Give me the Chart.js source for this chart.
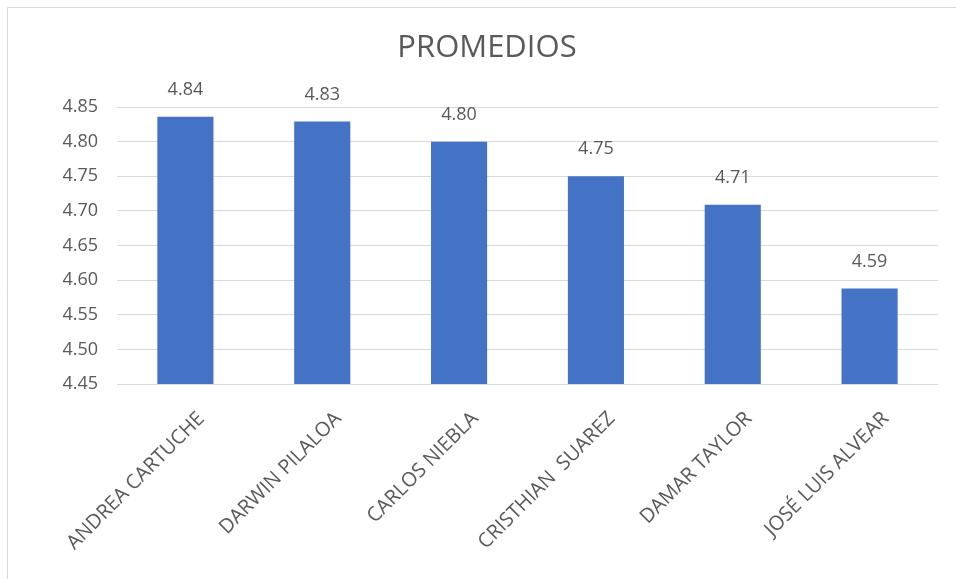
<!DOCTYPE html>
<html>
<head>
<meta charset="utf-8">
<script src="https://cdn.jsdelivr.net/npm/chart.js@4/dist/chart.umd.min.js"></script>
<style>
  html, body { margin: 0; padding: 0; background: #fff; overflow: hidden; }
  #wrap { width: 974px; height: 579px; }
</style>
</head>
<body>
<div id="wrap"><canvas id="PromChart"></canvas></div>
<script>
// data
const nombres = ['ANDREA CARTUCHE', 'DARWIN PILALOA', 'CARLOS NIEBLA', 'CRISTHIAN  SUAREZ', 'DAMAR TAYLOR', 'JOSÉ LUIS ALVEAR'];
const promedios = [4.836, 4.829, 4.80, 4.75, 4.709, 4.588];
const yTicks = [4.45, 4.50, 4.55, 4.60, 4.65, 4.70, 4.75, 4.80, 4.85];

const textColor = '#595959';
const fontName = "'Open Sans', sans-serif";

// values above the bars
const barLabels = {
    id: 'barLabels',
    afterDatasetsDraw(chart) {
        const ctx = chart.ctx;
        const meta = chart.getDatasetMeta(0);
        ctx.save();
        ctx.fillStyle = textColor;
        ctx.font = '18px ' + fontName;
        ctx.textAlign = 'center';
        ctx.textBaseline = 'middle';
        meta.data.forEach((bar, i) => {
            ctx.fillText(promedios[i].toFixed(2), bar.x, bar.y - 27);
        });
        ctx.restore();
    }
};

// thin frame at top and left, like the sheet chart border
const frame = {
    id: 'frame',
    beforeDraw(chart) {
        const ctx = chart.ctx;
        ctx.save();
        ctx.strokeStyle = '#d9d9d9';
        ctx.lineWidth = 1;
        ctx.beginPath();
        ctx.moveTo(7.5, chart.height);
        ctx.lineTo(7.5, 7.5);
        ctx.lineTo(chart.width, 7.5);
        ctx.stroke();
        ctx.restore();
    }
};

const ctx = document.getElementById('PromChart').getContext('2d');
new Chart(ctx, {
    type: 'bar',
    data: {
        labels: nombres,
        datasets: [{
            label: 'Promedio',
            data: promedios,
            backgroundColor: '#4472C4',
            barPercentage: 0.41,
            categoryPercentage: 1
        }]
    },
    options: {
        responsive: true,
        maintainAspectRatio: false,
        animation: false,
        layout: { padding: 0 },
        plugins: {
            legend: { display: false },
            tooltip: { enabled: false },
            title: {
                display: true,
                text: 'PROMEDIOS',
                color: textColor,
                font: { family: fontName, size: 31, weight: 'normal', lineHeight: 1.2 },
                padding: { top: 29.4, bottom: 40.4 }
            }
        },
        scales: {
            x: {
                grid: { display: false },
                border: { display: false },
                ticks: {
                    color: textColor,
                    font: { family: fontName, size: 20 },
                    minRotation: 45,
                    maxRotation: 45,
                    autoSkip: false,
                    labelOffset: 16,
                    padding: 15
                },
                afterFit(scale) { scale.height = 579 - 384; }
            },
            y: {
                min: 4.45,
                max: 4.85,
                afterBuildTicks(scale) { scale.ticks = yTicks.map(v => ({ value: v })); },
                grid: { color: '#d9d9d9', drawTicks: false },
                border: { display: false },
                ticks: {
                    color: textColor,
                    font: { family: fontName, size: 18 },
                    padding: 19,
                    callback: v => Number(v).toFixed(2)
                },
                afterFit(scale) { scale.width = 117; }
            },
            // empty right margin so the title centres like the original
            margen: {
                type: 'linear',
                position: 'right',
                grid: { display: false },
                border: { display: false },
                ticks: { display: false },
                afterFit(scale) { scale.width = 36; }
            }
        }
    },
    plugins: [barLabels, frame]
});
</script>
</body>
</html>
